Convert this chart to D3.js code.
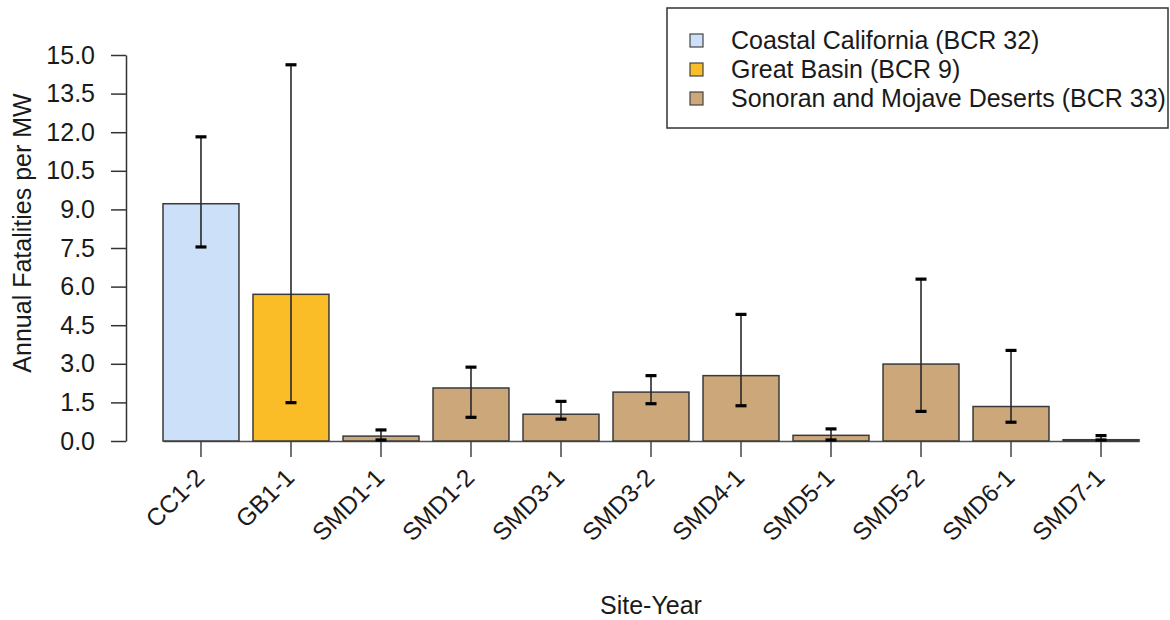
<!DOCTYPE html>
<html>
<head>
<meta charset="utf-8">
<script src="https://cdn.jsdelivr.net/npm/d3@7"></script>
<style>
  html, body { margin: 0; padding: 0; background: #fff; }
  svg { display: block; }
  text { font-family: "Liberation Sans", Arial, Helvetica, sans-serif; fill: #1a1a1a; }
</style>
</head>
<body>
<svg id="chart" width="1170" height="620"></svg>
<script>
// Site-year fatality estimates with confidence limits
const sites  = ["CC1-2", "GB1-1", "SMD1-1", "SMD1-2", "SMD3-1", "SMD3-2", "SMD4-1", "SMD5-1", "SMD5-2", "SMD6-1", "SMD7-1"];
const region = ["CC", "GB", "SMD", "SMD", "SMD", "SMD", "SMD", "SMD", "SMD", "SMD", "SMD"];
const estimate = [9.22, 5.70, 0.19, 2.06, 1.04, 1.90, 2.54, 0.22, 2.99, 1.34, 0.05];
const upper    = [11.82, 14.62, 0.43, 2.87, 1.54, 2.54, 4.92, 0.47, 6.29, 3.52, 0.21];
const lower    = [7.54, 1.49, 0.04, 0.92, 0.85, 1.45, 1.37, 0.04, 1.15, 0.73, 0.04];
const yTicks   = [0, 1.5, 3, 4.5, 6, 7.5, 9, 10.5, 12, 13.5, 15];

const legendKeys   = ["CC", "GB", "SMD"];
const legendLabels = ["Coastal California (BCR 32)", "Great Basin (BCR 9)", "Sonoran and Mojave Deserts (BCR 33)"];
const regionColors = ["#cce0fa", "#fbbd27", "#cca77a"];

const svg = d3.select("#chart");

const x = d3.scaleBand().domain(sites).range([163, 1139]).paddingInner(0.156).paddingOuter(0);
const y = d3.scaleLinear().domain([0, 15]).range([441, 55]);
const color = d3.scaleOrdinal().domain(legendKeys).range(regionColors);

// Y axis
const yAxis = svg.append("g")
  .attr("transform", "translate(126,0)")
  .call(d3.axisLeft(y).tickValues(yTicks).tickFormat(d3.format(".1f"))
    .tickSize(15).tickSizeOuter(0).tickPadding(16));
yAxis.select(".domain").attr("stroke", "#333").attr("stroke-width", 1.5);
yAxis.selectAll(".tick line").attr("stroke", "#333").attr("stroke-width", 1.5);
yAxis.selectAll(".tick text")
  .style("font-family", "'Liberation Sans', Arial, sans-serif")
  .style("font-size", "25px").attr("fill", "#1a1a1a");

// X axis: baseline and ticks at bar centres
const xAxis = svg.append("g")
  .attr("transform", `translate(0,${y(0)})`)
  .call(d3.axisBottom(x).tickSize(16).tickSizeOuter(0).tickFormat(""));
xAxis.select(".domain").attr("stroke", "#555").attr("stroke-width", 1.5);
xAxis.selectAll(".tick line").attr("stroke", "#444").attr("stroke-width", 1.5);

// Rotated site labels
svg.append("g").selectAll("text")
  .data(sites)
  .join("text")
  .attr("transform", d => `translate(${x(d) + x.bandwidth() / 2 + 5},479) rotate(-45)`)
  .attr("text-anchor", "end")
  .style("font-size", "24.5px")
  .text(d => d);

// Bars
svg.append("g").selectAll("rect")
  .data(sites)
  .join("rect")
  .attr("x", d => x(d))
  .attr("width", x.bandwidth())
  .attr("y", (d, i) => y(estimate[i]))
  .attr("height", (d, i) => y(0) - y(estimate[i]))
  .attr("fill", (d, i) => color(region[i]))
  .attr("stroke", "#3a3a3a")
  .attr("stroke-width", 1.5);

// Error bars
const eb = svg.append("g").selectAll("g")
  .data(sites)
  .join("g")
  .attr("transform", d => `translate(${x(d) + x.bandwidth() / 2},0)`);
eb.append("line")
  .attr("y1", (d, i) => y(lower[i]))
  .attr("y2", (d, i) => y(upper[i]))
  .attr("stroke", "#2a2a2a").attr("stroke-width", 1.6);
eb.append("line")
  .attr("x1", -5.5).attr("x2", 5.5)
  .attr("y1", (d, i) => y(upper[i])).attr("y2", (d, i) => y(upper[i]))
  .attr("stroke", "#000").attr("stroke-width", 3.2);
eb.append("line")
  .attr("x1", -5.5).attr("x2", 5.5)
  .attr("y1", (d, i) => y(lower[i])).attr("y2", (d, i) => y(lower[i]))
  .attr("stroke", "#000").attr("stroke-width", 3.2);

// Axis titles
svg.append("text")
  .attr("transform", "translate(31,233) rotate(-90)")
  .attr("text-anchor", "middle")
  .style("font-size", "25px")
  .text("Annual Fatalities per MW");

svg.append("text")
  .attr("x", 651).attr("y", 614)
  .attr("text-anchor", "middle")
  .style("font-size", "25px")
  .text("Site-Year");

// Legend
const lg = svg.append("g");
lg.append("rect")
  .attr("x", 667).attr("y", 8).attr("width", 501).attr("height", 120)
  .attr("fill", "#fff").attr("stroke", "#333").attr("stroke-width", 1.5);
const rows = lg.selectAll("g.row")
  .data(legendKeys)
  .join("g")
  .attr("class", "row")
  .attr("transform", (d, i) => `translate(0,${40.5 + i * 29})`);
rows.append("rect")
  .attr("x", 690).attr("y", -6.5).attr("width", 13).attr("height", 13)
  .attr("fill", d => color(d))
  .attr("stroke", "#444").attr("stroke-width", 1.2);
rows.append("text")
  .attr("x", 731).attr("y", 0).attr("dy", "0.35em")
  .style("font-size", "25px")
  .text((d, i) => legendLabels[i]);
</script>
</body>
</html>
